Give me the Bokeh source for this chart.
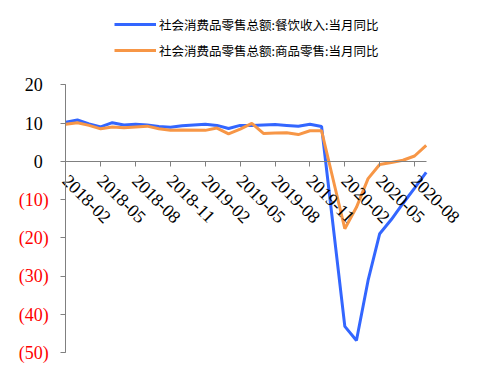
import math
from bokeh.plotting import figure
from bokeh.models import (Range1d, LinearAxis, FixedTicker, CustomJSTickFormatter,
                          Legend, LegendItem, ColumnDataSource)
from bokeh.embed import file_html
from bokeh.resources import INLINE

months = ["2018-02", "2018-03", "2018-04", "2018-05", "2018-06", "2018-07", "2018-08",
          "2018-09", "2018-10", "2018-11", "2018-12", "2019-01", "2019-02", "2019-03",
          "2019-04", "2019-05", "2019-06", "2019-07", "2019-08", "2019-09", "2019-10",
          "2019-11", "2019-12", "2020-01", "2020-02", "2020-03", "2020-04", "2020-05",
          "2020-06", "2020-07", "2020-08", "2020-09"]

catering = [10.2, 10.8, 9.8, 9.0, 10.1, 9.5, 9.7, 9.5, 9.1, 8.9, 9.3, None,
            9.7, 9.4, 8.6, 9.4, 9.4, 9.5, 9.6, 9.4, 9.2, 9.7, 9.1, None,
            -43.1, -46.8, -31.1, -18.9, -15.2, -11.0, -7.0, -2.9]

goods = [9.7, 10.1, 9.4, 8.5, 9.0, 8.8, 9.0, 9.2, 8.5, 8.1, 8.2, None,
         8.1, 8.7, 7.2, 8.4, 9.9, 7.3, 7.4, 7.5, 7.0, 8.0, 8.0, None,
         -17.6, -12.0, -4.5, -0.8, -0.3, 0.3, 1.4, 4.2]

tick_months = ["2018-02", "2018-05", "2018-08", "2018-11", "2019-02", "2019-05",
               "2019-08", "2019-11", "2020-02", "2020-05", "2020-08"]

y_ticks = [20, 10, 0, -10, -20, -30, -40, -50]

names = ["社会消费品零售总额:餐饮收入:当月同比", "社会消费品零售总额:商品零售:当月同比"]
colors = ["#3366FF", "#F79646"]

W, H = 487, 367
# plot-area placement inside the figure (pixels)
area_left, area_right, area_top, area_bottom = 65.3, 425.7, 84.3, 352.3
last = len(months) - 1
y_lo, y_hi = -50, 20
px_x = (area_right - area_left) / last
px_y = (area_bottom - area_top) / (y_hi - y_lo)

p = figure(width=W, height=H, output_backend="svg", toolbar_location=None,
           x_axis_location=None, y_axis_location=None,
           x_range=Range1d(-area_left / px_x, last + (W - area_right) / px_x),
           y_range=Range1d(y_lo - (H - area_bottom) / px_y, y_hi + area_top / px_y),
           min_border=0)
p.outline_line_color = None
p.xgrid.visible = False
p.ygrid.visible = False
p.background_fill_color = "white"

renderers = []
for vals, c in zip([catering, goods], colors):
    xs = [i for i, v in enumerate(vals) if v is not None]
    ys = [v for v in vals if v is not None]
    src = ColumnDataSource(dict(x=xs, y=ys))
    r = p.line("x", "y", source=src, line_color=c, line_width=3)
    renderers.append(r)

serif = "Liberation Serif"
axis_gray = "#808080"

xa = LinearAxis(fixed_location=0, bounds=(0, last),
                ticker=FixedTicker(ticks=[months.index(m) for m in tick_months]),
                formatter=CustomJSTickFormatter(args=dict(labels=months),
                                                code="return labels[Math.round(tick)] || ''"))
xa.major_label_orientation = -math.pi / 4
xa.major_label_text_font = serif
xa.major_label_text_font_size = "18px"
xa.major_label_text_color = "black"
xa.axis_line_color = axis_gray
xa.major_tick_line_color = axis_gray
xa.major_tick_in = 0
xa.major_tick_out = 5
xa.minor_tick_line_color = None
xa.major_label_standoff = 11
p.add_layout(xa, "below")

ya = LinearAxis(fixed_location=0, bounds=(y_lo, y_hi),
                ticker=FixedTicker(ticks=[t for t in y_ticks if t >= 0]))
ya.major_label_text_color = "black"
ya.major_label_standoff = 18
yb = LinearAxis(fixed_location=0, bounds=(y_lo, y_hi),
                ticker=FixedTicker(ticks=[t for t in y_ticks if t < 0]),
                formatter=CustomJSTickFormatter(code="return '(' + Math.abs(tick) + ')'"))
yb.major_label_text_color = "#FF0000"
yb.major_label_standoff = 12
for ax in (ya, yb):
    ax.axis_line_color = axis_gray
    ax.major_tick_line_color = axis_gray
    ax.major_tick_in = 0
    ax.major_tick_out = 5
    ax.major_label_text_font = serif
    ax.major_label_text_font_size = "18px"
    ax.minor_tick_line_color = None
    p.add_layout(ax, "left")

legend = Legend(items=[LegendItem(label=n, renderers=[r]) for n, r in zip(names, renderers)],
                location=(114, 307), orientation="vertical",
                glyph_width=42, glyph_height=20, label_height=20, spacing=6,
                padding=4, margin=0, label_standoff=3,
                border_line_color=None, background_fill_alpha=0,
                label_text_font="Noto Sans CJK SC", label_text_font_size="12.5px",
                label_text_color="black")
p.add_layout(legend)

open("out.html", "w").write(file_html(p, INLINE))
